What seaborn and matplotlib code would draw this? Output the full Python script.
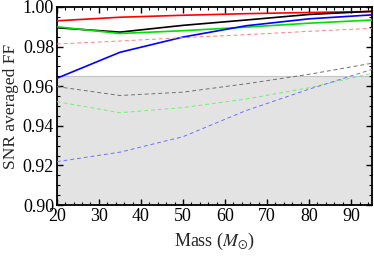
import matplotlib
matplotlib.use("Agg")
import matplotlib.pyplot as plt
import seaborn as sns
import pandas as pd
from matplotlib.ticker import MultipleLocator, FormatStrFormatter

# masses (solar masses)
mass = [20, 35, 50, 65, 80, 95]

# solid curves
red_solid = [0.9930, 0.9948, 0.9958, 0.9966, 0.9972, 0.9977]
black_solid = [0.9895, 0.9873, 0.9907, 0.9934, 0.9962, 0.9978]
green_solid = [0.9900, 0.9866, 0.9880, 0.9898, 0.9918, 0.9934]
blue_solid = [0.9640, 0.9771, 0.9848, 0.9905, 0.9940, 0.9960]

# dashed curves
red_dashed = [0.9813, 0.9828, 0.9845, 0.9860, 0.9877, 0.9892]
black_dashed = [0.9598, 0.9553, 0.9570, 0.9612, 0.9660, 0.9716]
green_dashed = [0.9522, 0.9466, 0.9492, 0.9535, 0.9592, 0.9665]
blue_dashed = [0.9219, 0.9267, 0.9345, 0.9477, 0.9585, 0.9685]

shade_top = 0.965

series = [
    ("red_solid", red_solid, "#ff0000", "-", 1.2),
    ("black_solid", black_solid, "#000000", "-", 1.2),
    ("green_solid", green_solid, "#00e000", "-", 1.2),
    ("blue_solid", blue_solid, "#0000ff", "-", 1.2),
    ("red_dashed", red_dashed, "#ff8080", "--", 0.7),
    ("black_dashed", black_dashed, "#707070", "--", 0.7),
    ("green_dashed", green_dashed, "#70f070", "--", 0.7),
    ("blue_dashed", blue_dashed, "#7070ff", "--", 0.7),
]

sns.set_style("ticks")
plt.rcParams["font.family"] = ["Liberation Serif", "DejaVu Serif"]
plt.rcParams["mathtext.fontset"] = "stix"

fig = plt.figure(figsize=(3.74, 2.57), dpi=100)
ax = fig.add_axes([0.152, 0.202, 0.843, 0.771])

ax.axhspan(0.90, shade_top, facecolor="#e3e3e3", edgecolor="#c4c4c4", lw=0.8, zorder=0)

for name, vals, color, ls, lw in series:
    df = pd.DataFrame({"mass": mass, "ff": vals})
    sns.lineplot(data=df, x="mass", y="ff", ax=ax, color=color, lw=lw, zorder=3)
    if ls == "--":
        ax.lines[-1].set_dashes((4, 3))

ax.set_xlim(20, 95)
ax.set_ylim(0.90, 1.00)
ax.xaxis.set_major_locator(MultipleLocator(10))
ax.xaxis.set_minor_locator(MultipleLocator(2))
ax.yaxis.set_major_locator(MultipleLocator(0.02))
ax.yaxis.set_minor_locator(MultipleLocator(0.005))
ax.yaxis.set_major_formatter(FormatStrFormatter("%.2f"))

ax.tick_params(which="both", direction="in", top=True, right=True,
               labelsize=13, colors="black")
ax.tick_params(which="major", length=4, width=1.0, pad=2)
ax.tick_params(which="minor", length=2, width=0.8)
for s in ax.spines.values():
    s.set_linewidth(1.3)
    s.set_color("black")

ax.set_xlabel(r"Mass ($M_{\odot}$)", fontsize=13, labelpad=4)
ax.set_ylabel("SNR averaged FF", fontsize=12.5, labelpad=3)

fig.savefig("out.png", dpi=100)
